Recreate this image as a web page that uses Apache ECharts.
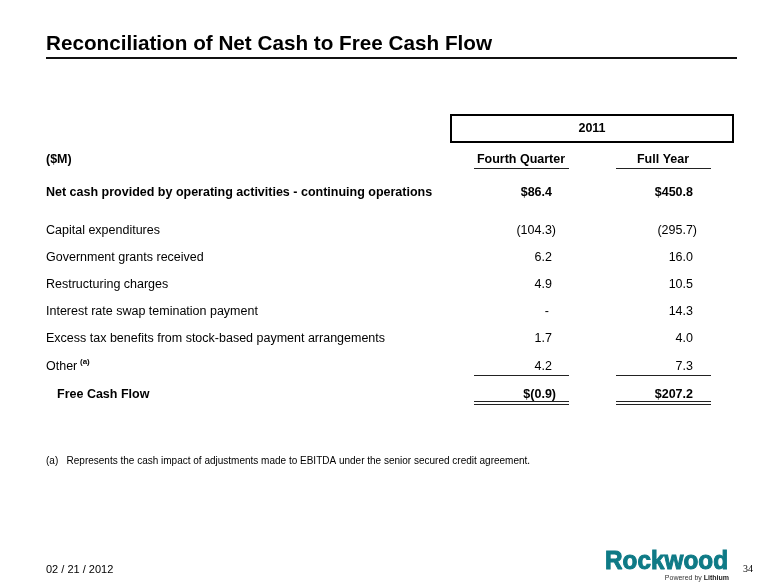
<!DOCTYPE html>
<html>
<head>
    <meta charset="utf-8">
    <title>Reconciliation of Net Cash to Free Cash Flow</title>
    <script src="https://cdn.jsdelivr.net/npm/echarts@6/dist/echarts.min.js"></script>
    <style>
        html, body { margin: 0; padding: 0; background: #fff; }
        #main { width: 780px; height: 585px; }
    </style>
</head>
<body>
<div id="main"></div>
<script>
    // table data
    var periodLabel = '2011';
    var unitLabel = '($M)';
    var columnLabels = ['Fourth Quarter', 'Full Year'];
    var rowLabels = [
        'Net cash provided by operating activities - continuing operations',
        'Capital expenditures',
        'Government grants received',
        'Restructuring charges',
        'Interest rate swap temination payment',
        'Excess tax benefits from stock-based payment arrangements',
        'Other',
        'Free Cash Flow'
    ];
    var fourthQuarter = [86.4, -104.3, 6.2, 4.9, null, 1.7, 4.2, -0.9];
    var fullYear = [450.8, -295.7, 16.0, 10.5, 14.3, 4.0, 7.3, 207.2];
    var boldRows = [0, 7];
    var dollarRows = [0, 7];

    // layout (pixels)
    var rowY = [193, 231, 258, 285, 312, 339, 367, 395];
    var colRight = [552, 693];
    var colCenter = [521, 663];
    var colLine = [[474, 569], [616, 711]];
    var headerY = 160;
    var FONT = 'Liberation Sans, Arial, sans-serif';
    var SIZE = '12.5px ';

    function fmt(v, dollar) {
        if (v === null) return '-';
        var s = Math.abs(v).toFixed(1);
        if (v < 0) s = '(' + s + ')';
        if (dollar) s = '$' + s;
        return s;
    }

    function measure(text, font) {
        var ctx = document.createElement('canvas').getContext('2d');
        ctx.font = font;
        return ctx.measureText(text).width;
    }

    var titleText = 'Reconciliation of Net Cash to Free Cash Flow';
    var titleScale = 446 / measure(titleText, 'bold 21px ' + FONT);
    var logoScale = 123 / measure('Rockwood', 'bold 26px ' + FONT);

    var chart = echarts.init(document.getElementById('main'));

    chart.setOption({
        animation: false,
        backgroundColor: '#fff',
        grid: {left: 0, right: 0, top: 0, bottom: 0},
        xAxis: {type: 'value', min: 0, max: 780, show: false},
        yAxis: {type: 'value', min: 0, max: 585, inverse: true, show: false},
        graphic: [
            {
                type: 'text', x: 46, y: 44, scaleX: titleScale,
                style: {text: titleText, x: 0, y: 0, verticalAlign: 'middle',
                    font: 'bold 21px ' + FONT, fill: '#000'}
            },
            {
                type: 'rect', shape: {x: 46, y: 57, width: 691, height: 2},
                style: {fill: '#111'}
            },
            {
                type: 'rect', shape: {x: 451, y: 115, width: 282, height: 27},
                style: {fill: '#fff', stroke: '#000', lineWidth: 2}
            },
            {
                type: 'text', x: 592, y: 129,
                style: {text: periodLabel, align: 'center', verticalAlign: 'middle',
                    font: 'bold ' + SIZE + FONT, fill: '#000'}
            },
            {
                type: 'text', x: 46, y: headerY,
                style: {text: unitLabel, verticalAlign: 'middle',
                    font: 'bold ' + SIZE + FONT, fill: '#000'}
            },
            {
                type: 'text', x: 80, y: 362,
                style: {text: '(a)', verticalAlign: 'middle',
                    font: 'bold 8px ' + FONT, fill: '#000'}
            },
            {
                type: 'text', x: 46, y: 461,
                style: {text: '(a)   Represents the cash impact of adjustments made to EBITDA under the senior secured credit agreement.',
                    verticalAlign: 'middle', font: '10px ' + FONT, fill: '#000'}
            },
            {
                type: 'text', x: 46, y: 570,
                style: {text: '02 / 21 / 2012', verticalAlign: 'middle',
                    font: '11px ' + FONT, fill: '#000'}
            },
            {
                type: 'text', x: 605, y: 562, scaleX: logoScale,
                style: {text: 'Rockwood', x: 0, y: 0, verticalAlign: 'middle',
                    font: 'bold 26px ' + FONT, fill: '#0e7a86', stroke: '#0e7a86', lineWidth: 1}
            },
            {
                type: 'text', x: 729, y: 578,
                style: {
                    text: '{a|Powered by }{b|Lithium}', align: 'right', verticalAlign: 'middle',
                    rich: {
                        a: {fontSize: 7, fontFamily: FONT, fill: '#333'},
                        b: {fontSize: 7, fontFamily: FONT, fontWeight: 'bold', fill: '#222'}
                    }
                }
            },
            {
                type: 'text', x: 743, y: 569,
                style: {text: '34', verticalAlign: 'middle',
                    font: '10px Liberation Serif, serif', fill: '#000'}
            }
        ],
        series: [
            {
                // column headers with underline
                type: 'custom',
                silent: true,
                data: columnLabels.map(function (c, i) { return [i]; }),
                renderItem: function (params, api) {
                    var i = params.dataIndex;
                    var p = api.coord([colCenter[i], headerY]);
                    var a = api.coord([colLine[i][0], headerY + 8]);
                    var b = api.coord([colLine[i][1], headerY + 8]);
                    return {
                        type: 'group',
                        children: [
                            {type: 'text', x: p[0], y: p[1],
                                style: {text: columnLabels[i], align: 'center', verticalAlign: 'middle',
                                    font: 'bold ' + SIZE + FONT, fill: '#000'}},
                            {type: 'line', shape: {x1: a[0], y1: a[1] + 0.5, x2: b[0], y2: b[1] + 0.5},
                                style: {stroke: '#222', lineWidth: 1}}
                        ]
                    };
                }
            },
            {
                // table rows
                type: 'custom',
                silent: true,
                data: rowLabels.map(function (r, i) { return [i]; }),
                renderItem: function (params, api) {
                    var i = params.dataIndex;
                    var bold = boldRows.indexOf(i) >= 0;
                    var dollar = dollarRows.indexOf(i) >= 0;
                    var font = (bold ? 'bold ' : '') + SIZE + FONT;
                    var labelX = i === rowLabels.length - 1 ? 57 : 46;
                    var lp = api.coord([labelX, rowY[i]]);
                    var children = [
                        {type: 'text', x: lp[0], y: lp[1],
                            style: {text: rowLabels[i], verticalAlign: 'middle', font: font, fill: '#000'}}
                    ];
                    [fourthQuarter, fullYear].forEach(function (col, c) {
                        var v = col[i];
                        var shift = v === null ? -3 : (v < 0 ? 4 : 0);
                        var vp = api.coord([colRight[c] + shift, rowY[i]]);
                        children.push({type: 'text', x: vp[0], y: vp[1],
                            style: {text: fmt(v, dollar), align: 'right', verticalAlign: 'middle',
                                font: font, fill: '#000'}});
                        // single rule under "Other", double rule under the total
                        if (i === rowLabels.length - 2 || i === rowLabels.length - 1) {
                            var offs = i === rowLabels.length - 1 ? [6, 9] : [8];
                            offs.forEach(function (o) {
                                var a = api.coord([colLine[c][0], rowY[i] + o]);
                                var b = api.coord([colLine[c][1], rowY[i] + o]);
                                children.push({type: 'line',
                                    shape: {x1: a[0], y1: Math.round(a[1]) + 0.5, x2: b[0], y2: Math.round(b[1]) + 0.5},
                                    style: {stroke: '#222', lineWidth: 1}});
                            });
                        }
                    });
                    return {type: 'group', children: children};
                }
            }
        ]
    });
</script>
</body>
</html>
